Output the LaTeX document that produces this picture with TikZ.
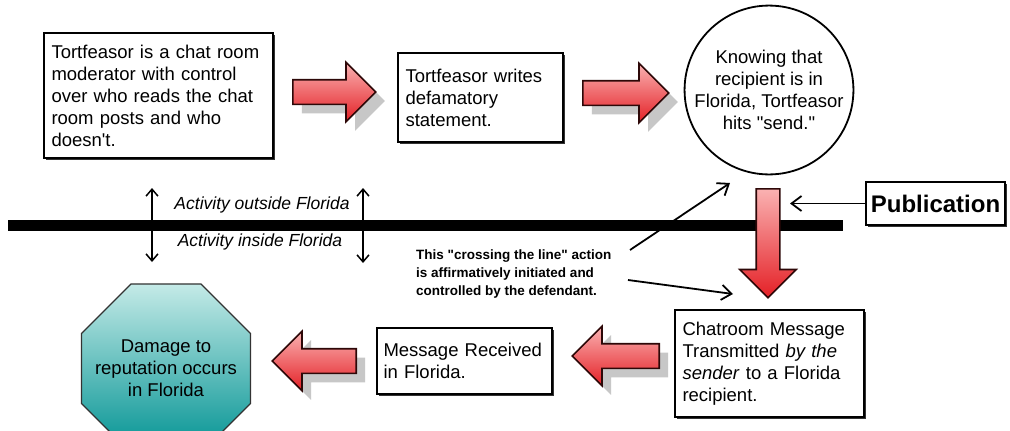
\documentclass[tikz,border=0pt]{standalone}
\usepackage{fontspec}
\setmainfont{Liberation Sans}[Ligatures=TeXOff]
\usetikzlibrary{arrows.meta, shapes.geometric, shapes.arrows, shadows, positioning}
\definecolor{arrowtop}{RGB}{250,178,178}
\definecolor{arrowbot}{RGB}{228,32,38}
\definecolor{arrowedge}{RGB}{45,8,8}
\definecolor{octtop}{RGB}{196,234,231}
\definecolor{octbot}{RGB}{0,146,146}
\tikzset{
  textbox/.style={
    rectangle, draw=black, line width=1.6pt, fill=white,
    align=left, inner sep=6pt,
    font=\fontsize{18.5}{22}\selectfont,
    drop shadow={shadow xshift=2pt, shadow yshift=-2pt, fill=black!80, opacity=1}
  },
  blockarrow/.style={
    single arrow, draw=arrowedge, line width=1.6pt,
    top color=arrowtop, bottom color=arrowbot,
    inner xsep=0pt, inner ysep=11.5pt,
    single arrow head extend=17.5pt,
    minimum height=#1, anchor=tail
  },
  arrowshadow/.style={
    drop shadow={shadow xshift=9pt, shadow yshift=-9pt, fill=black!22, opacity=1}
  },
  sendnode/.style={
    circle, draw=black, line width=1.8pt, fill=white,
    align=center, inner sep=0pt,
    font=\fontsize{18.5}{22}\selectfont
  },
  damagenode/.style={
    regular polygon, regular polygon sides=8,
    draw=black!80, line width=1.2pt,
    top color=octtop, bottom color=octbot,
    inner sep=0pt
  },
  acttext/.style={font=\fontsize{17.5}{20}\selectfont\itshape, inner sep=0pt},
  notetext/.style={font=\fontsize{13.5}{18}\selectfont\bfseries, align=left, inner sep=0pt},
  linearrow/.style={-{Straight Barb[length=10pt,width=15pt]}, line width=1.8pt},
  bothways/.style={{Straight Barb[length=7pt,width=12pt]}-{Straight Barb[length=7pt,width=12pt]}, line width=1.5pt},
}
\begin{document}
\begin{tikzpicture}[x=1pt, y=-1pt]
  \fill[white] (0,0) rectangle (1010,431);
  \useasboundingbox (0,0) rectangle (1010,431);
  \fill[black] (8,220) rectangle (843,231);

  \node[textbox, minimum width=229pt, minimum height=125pt, text width=214pt](tort) at (158.5,95.5)
    {Tortfeasor is a chat room\\moderator with control\\over who reads the chat\\room posts and who\\doesn't.};
  \node[textbox, minimum width=165pt, minimum height=89pt, text width=150pt](write) at (480.5,97.5)
    {Tortfeasor writes\\defamatory\\statement.};
  \node[sendnode, minimum size=168pt](send) at (769,90)
    {Knowing that\\recipient is in\\Florida, Tortfeasor\\hits "send."};
  \node[textbox, minimum width=139pt, minimum height=43pt, inner sep=2pt, align=center,
        font=\fontsize{24}{28}\selectfont\bfseries](pub) at (935.5,203.5) {Publication};
  \node[textbox, minimum width=189pt, minimum height=107pt, text width=174pt](chat) at (769.5,363.5)
    {Chatroom Message\\Transmitted \textit{by the}\\\textit{sender} to a Florida\\recipient.};
  \node[textbox, minimum width=175pt, minimum height=66pt, text width=162pt](recv) at (464.5,361)
    {Message Received\\in Florida.};
  \node[damagenode, minimum size=183pt,
        label={[align=center, font=\fontsize{18.5}{22}\selectfont]center:Damage to\\reputation occurs\\in Florida}](damage) at (166,368.5) {};

  \node[blockarrow=83pt, arrowshadow](r1) at (292,92) {};
  \node[blockarrow=86pt, arrowshadow](r2) at (582,93) {};
  \node[blockarrow=109pt, shape border rotate=270, inner xsep=11pt, inner ysep=0pt,
        single arrow head extend=16.5pt](r3) at (768,188) {};
  \node[blockarrow=87pt, arrowshadow, shape border rotate=180](r4) at (660,356) {};
  \node[blockarrow=84pt, arrowshadow, shape border rotate=180](r5) at (357,361) {};

  \node[acttext](outside) at (262,205) {Activity outside Florida};
  \node[acttext](inside) at (260,242) {Activity inside Florida};
  \node[notetext, anchor=north west](note) at (416,250)
    {This "crossing the line" action\\is affirmatively initiated and\\controlled by the defendant.};

  \coordinate (pubtip) at (790,203.5);
  \coordinate (upstart) at (630,250);
  \coordinate (uptip) at (730,183);
  \coordinate (downstart) at (628,280);
  \coordinate (downtip) at (733,294);
  \coordinate (leftup) at (152,188);
  \coordinate (leftdown) at (152,262);
  \coordinate (rightup) at (363,188);
  \coordinate (rightdown) at (363,263);

  \draw[linearrow](pub.west)--(pubtip);
  \draw[linearrow](upstart)--(uptip);
  \draw[linearrow](downstart)--(downtip);
  \draw[bothways](leftup)--(leftdown);
  \draw[bothways](rightup)--(rightdown);
\end{tikzpicture}
\end{document}
